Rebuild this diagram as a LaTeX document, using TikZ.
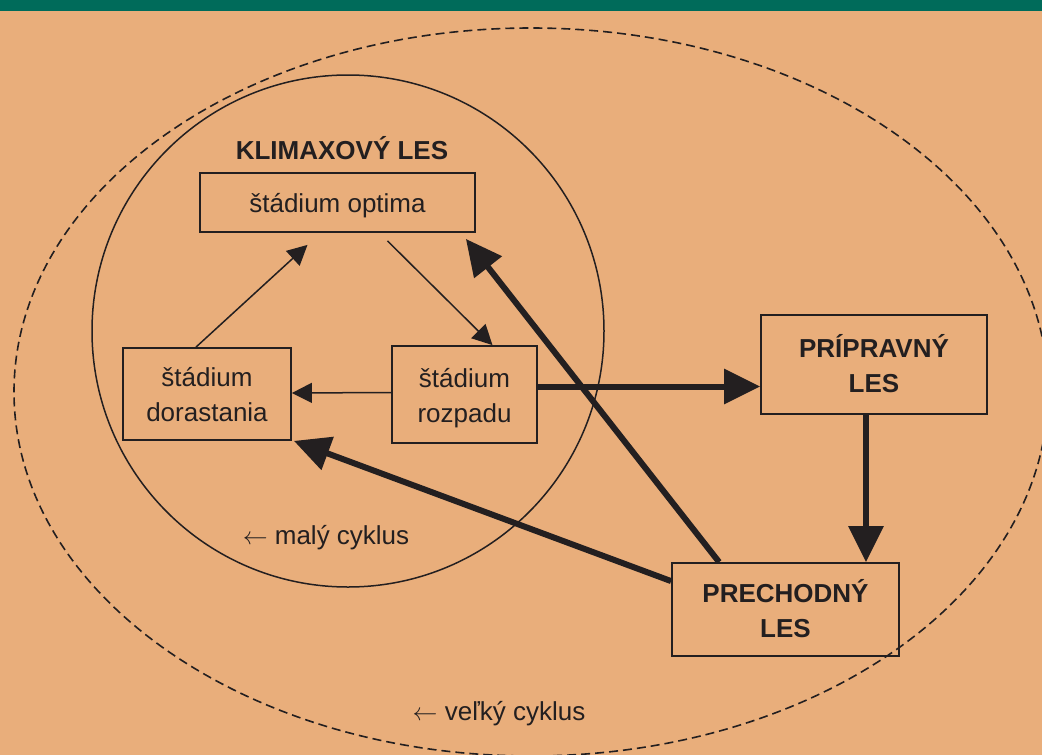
\documentclass[tikz,border=0pt]{standalone}
\usepackage{fontspec}
\setmainfont{Liberation Sans}
\usetikzlibrary{arrows.meta}
\definecolor{bg}{HTML}{E9AE7B}
\definecolor{band}{HTML}{006B5A}
\definecolor{ink}{HTML}{231F20}
\newcommand\lowtext[1]{\raisebox{-3pt}[\height][\depth]{\begin{tabular}{@{}c@{}}#1\end{tabular}}}
\begin{document}
\begin{tikzpicture}[x=1pt,y=-1pt,
  box/.style={draw=ink, line width=1.8pt, inner sep=0pt, align=center, text=ink, font=\fontsize{26}{35}\selectfont},
  boldbox/.style={box, font=\fontsize{26}{35}\selectfont\bfseries},
  thinarrow/.style={draw=ink, line width=1.5pt, -{Triangle[length=20pt,width=20pt]}},
  thickarrow/.style={draw=ink, line width=6pt, -{Triangle[length=36pt,width=34pt]}},
  lbl/.style={text=ink, inner sep=0pt, font=\fontsize{26}{35}\selectfont}]
\useasboundingbox (0,0) rectangle (1042,755);
\clip (0,0) rectangle (1042,755);
\fill[bg] (0,0) rectangle (1042,755);
\fill[band] (0,0) rectangle (1042,11);
% cycles
\draw[ink, line width=1.6pt, dash pattern=on 9pt off 5pt] (531,392) ellipse [x radius=517pt, y radius=364pt];
\draw[ink, line width=1.5pt] (348,331) circle [radius=256pt];
% nodes
\node[box, minimum width=275pt, minimum height=59pt] (opt) at (337.5,202.5) {\lowtext{štádium optima}};
\node[box, minimum width=168pt, minimum height=92pt] (dor) at (207,394) {\lowtext{štádium\\dorastania}};
\node[box, minimum width=145pt, minimum height=97pt] (roz) at (464.5,394.5) {\lowtext{štádium\\rozpadu}};
\node[boldbox, minimum width=226pt, minimum height=99pt] (prip) at (874,364.5) {\lowtext{PRÍPRAVNÝ\\LES}};
\node[boldbox, minimum width=227pt, minimum height=93pt] (prech) at (785.5,609.5) {\lowtext{PRECHODNÝ\\LES}};
\node[lbl, font=\fontsize{26}{35}\selectfont\bfseries] (klim) at (342,148) {KLIMAXOVÝ LES};
\node[lbl] (maly) at (326,538) {$\leftarrow$ malý cyklus};
\node[lbl] (velky) at (499,714) {$\leftarrow$ veľký cyklus};
% small cycle arrows
\draw[thinarrow] ([xshift=-11pt]dor.north) -- ([xshift=-30pt,yshift=-12pt]opt.south);
\draw[thinarrow] ([xshift=50pt,yshift=-8pt]opt.south) -- ([xshift=28pt]roz.north);
\draw[thinarrow] ([yshift=2pt]roz.west) -- ([yshift=1pt]dor.east);
% large cycle arrows
\draw[thickarrow] ([yshift=8pt]roz.east) -- ([yshift=8pt]roz.east -| prip.west);
\draw[thickarrow] ([xshift=-8pt]prip.south) -- ([xshift=-8pt]prip.south |- prech.north);
\draw[thickarrow] ([xshift=48pt]prech.north west) -- ([xshift=-10pt,yshift=-6pt]opt.south east);
\draw[thickarrow] ([yshift=-19pt]prech.north west) -- ([xshift=2pt]dor.south east);
\end{tikzpicture}
\end{document}
